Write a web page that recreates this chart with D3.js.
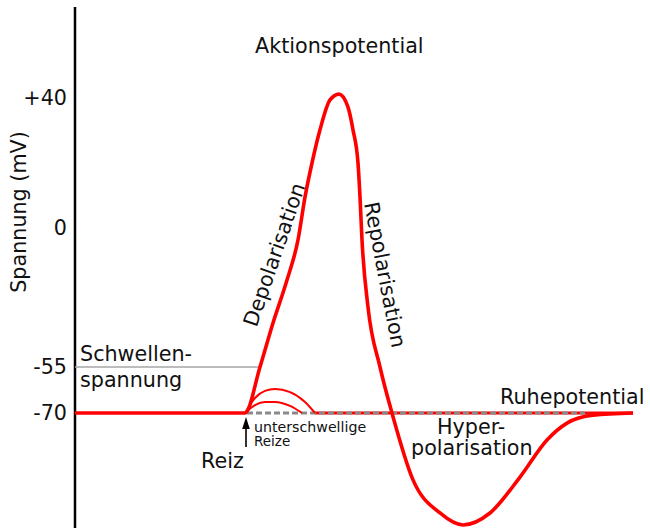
<!DOCTYPE html>
<html>
<head>
<meta charset="utf-8">
<script src="https://cdn.jsdelivr.net/npm/d3@7/dist/d3.min.js"></script>
<style>
  html, body { margin: 0; padding: 0; background: #fff; }
  svg { display: block; font-family: "DejaVu Sans", sans-serif; }
</style>
</head>
<body>
<svg id="chart" width="650" height="528"></svg>
<script>
// ---- Data (time in ms, voltage in mV) ----
const tickValues = [40, 0, -55, -70];
const tickLabels = ["+40", "0", "-55", "-70"];

const apTime = [0, 1.70, 1.85, 1.98, 2.12, 2.23, 2.30, 2.37, 2.45, 2.55, 2.64, 2.73, 2.78, 2.83, 2.85, 2.87, 2.93, 3.05, 3.17, 3.38, 3.65, 3.88, 4.15, 4.45, 4.72, 4.92, 5.18, 5.58];
const apVolt = [-70, -70, -55, -37.6, -20.6, -4.7, 9.5, 20, 30.2, 39.4, 41.2, 37.2, 30.2, 20, 9.5, -4.7, -31.3, -55, -70, -91.8, -102.6, -106.5, -102.6, -90.9, -78.8, -73.3, -70.7, -70];

const sub1Time = [1.70, 1.80, 1.90, 2.00, 2.15, 2.30, 2.40];
const sub1Volt = [-70, -65.1, -62.8, -62.2, -63.2, -66.4, -70];
const sub2Time = [1.70, 1.80, 1.90, 2.00, 2.15, 2.27];
const sub2Volt = [-70, -67.4, -66.4, -66.4, -67.7, -70];

const restVolt = -70;
const thresholdVolt = -55;
const restDashTime = [1.72, 5.10];
const restRedTime = [2.40, 5.58];
const thresholdTime = [0, 1.83];
const stimulusTime = 1.71;

// ---- Scales ----
const svg = d3.select("#chart");
const x = d3.scaleLinear().domain([0, 5.6]).range([75, 635]);
// schematic (piecewise) voltage axis
const y = d3.scaleLinear().domain([-70, -55, 0, 40]).range([413, 367, 228, 98]);

const RED = "#ff0000";
const FS = 20.7;

// ---- Axis ----
svg.append("line")
  .attr("x1", x(0)).attr("x2", x(0))
  .attr("y1", 7).attr("y2", 528)
  .attr("stroke", "#000").attr("stroke-width", 2.5);

svg.append("g").selectAll("text")
  .data(tickValues)
  .join("text")
  .attr("x", 67)
  .attr("y", d => y(d))
  .attr("dy", "0.34em")
  .attr("text-anchor", "end")
  .attr("font-size", FS)
  .attr("fill", "#111")
  .text((d, i) => tickLabels[i]);

svg.append("text")
  .attr("transform", "translate(26,212) rotate(-90)")
  .attr("text-anchor", "middle")
  .attr("font-size", FS)
  .attr("fill", "#111")
  .text("Spannung (mV)");

// ---- Threshold line ----
svg.append("line")
  .attr("x1", x(thresholdTime[0])).attr("x2", x(thresholdTime[1]))
  .attr("y1", y(thresholdVolt)).attr("y2", y(thresholdVolt))
  .attr("stroke", "#a6a6a6").attr("stroke-width", 1.6);

// ---- Resting level: red + grey dashed ----
svg.append("line")
  .attr("x1", x(restRedTime[0])).attr("x2", x(restRedTime[1]))
  .attr("y1", y(restVolt)).attr("y2", y(restVolt))
  .attr("stroke", RED).attr("stroke-width", 3);
svg.append("line")
  .attr("x1", x(restDashTime[0])).attr("x2", x(restDashTime[1]))
  .attr("y1", y(restVolt)).attr("y2", y(restVolt))
  .attr("stroke", "#8a8a8a").attr("stroke-width", 3.2)
  .attr("stroke-dasharray", "6,3");

// ---- Curves ----
const line = d3.line().x(d => x(d[0])).y(d => y(d[1])).curve(d3.curveMonotoneX);

svg.append("path")
  .attr("d", line(sub1Time.map((t, i) => [t, sub1Volt[i]])))
  .attr("fill", "none").attr("stroke", RED).attr("stroke-width", 2);
svg.append("path")
  .attr("d", line(sub2Time.map((t, i) => [t, sub2Volt[i]])))
  .attr("fill", "none").attr("stroke", RED).attr("stroke-width", 2);

svg.append("path")
  .attr("d", line(apTime.map((t, i) => [t, apVolt[i]])))
  .attr("fill", "none").attr("stroke", RED).attr("stroke-width", 3.6)
  .attr("stroke-linejoin", "round");

// ---- Stimulus arrow ----
const ax = x(stimulusTime);
svg.append("line")
  .attr("x1", ax).attr("x2", ax)
  .attr("y1", 447).attr("y2", 425)
  .attr("stroke", "#000").attr("stroke-width", 1.6);
svg.append("path")
  .attr("d", `M${ax},417 L${ax - 3.8},429 L${ax + 3.8},429 Z`)
  .attr("fill", "#000");

// ---- Labels ----
function label(txt, px, py, size, anchor) {
  return svg.append("text")
    .attr("x", px).attr("y", py)
    .attr("font-size", size)
    .attr("text-anchor", anchor || "start")
    .attr("fill", "#111")
    .text(txt);
}
label("Aktionspotential", 255, 53, FS);
label("Schwellen-", 80, 361, FS);
label("spannung", 80, 387, FS);
label("Ruhepotential", 500, 404, FS);
label("Hyper-", 437, 434, FS);
label("polarisation", 411, 455, FS);
label("Reiz", 201, 468, FS);
label("unterschwellige", 254, 432, 14.2);
label("Reize", 254, 446, 13.5);

svg.append("text")
  .attr("transform", "translate(281,257) rotate(-71)")
  .attr("text-anchor", "middle")
  .attr("font-size", FS).attr("fill", "#111")
  .text("Depolarisation");
svg.append("text")
  .attr("transform", "translate(378,276) rotate(79)")
  .attr("text-anchor", "middle")
  .attr("font-size", FS).attr("fill", "#111")
  .text("Repolarisation");
</script>
</body>
</html>
